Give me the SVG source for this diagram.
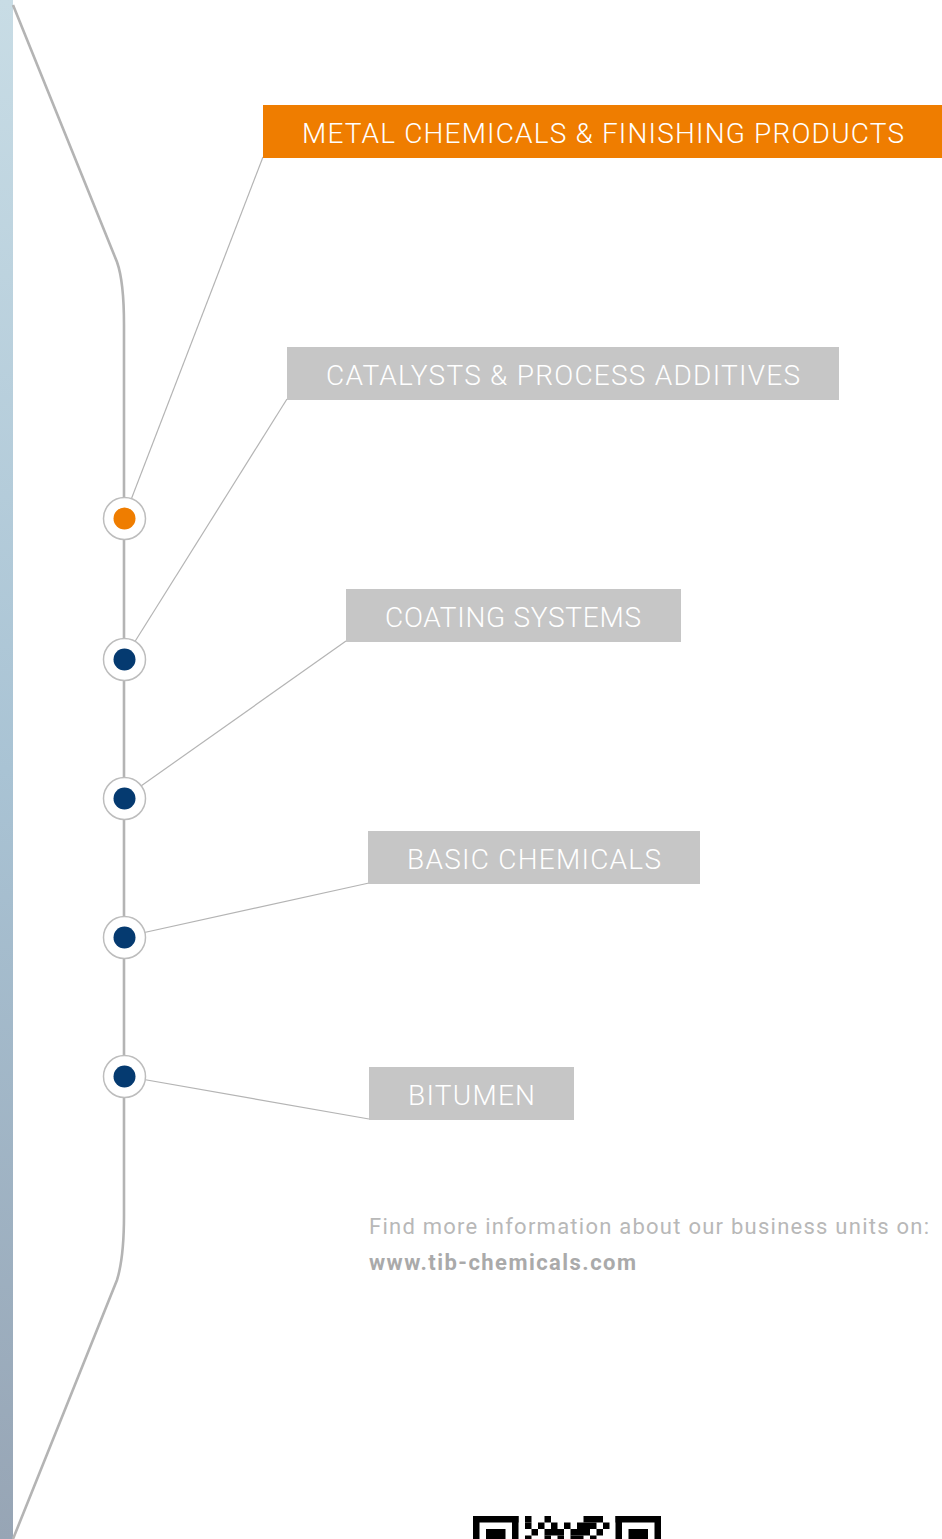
<svg xmlns="http://www.w3.org/2000/svg" width="942" height="1539" viewBox="0 0 942 1539">
  <style>
    .lbl { font-family: Roboto, "Liberation Sans", sans-serif; font-size: 28px; font-weight: 300; fill: #ffffff; }
    .box { fill: #c6c6c6; }
    .conn { fill: none; stroke: #b4b4b4; stroke-width: 1.2; }
    .main { fill: none; stroke: #b4b4b4; stroke-width: 2.6; }
    .ring { fill: #ffffff; stroke: #bdbdbd; stroke-width: 1.5; }
    .dot { fill: #053a70; }
    .foot { font-family: Roboto, "Liberation Sans", sans-serif; font-size: 22px; font-weight: 400; fill: #b8b8b8; }
    .url { font-family: Roboto, "Liberation Sans", sans-serif; font-size: 22px; font-weight: 700; fill: #aaaaaa; }
    .qr { fill: #000000; }
  </style>
  <defs>
    <linearGradient id="bar" x1="0" y1="0" x2="0" y2="1">
      <stop offset="0" stop-color="#c8dce5"/>
      <stop offset="0.5" stop-color="#a9c3d4"/>
      <stop offset="1" stop-color="#97a5b5"/>
    </linearGradient>
  </defs>
  <rect x="0" y="0" width="942" height="1539" fill="#ffffff"/>
  <rect x="0" y="0" width="13" height="1539" fill="url(#bar)"/>

  <g id="connectors">
    <path class="main" d="M13,5 L117,262 C122,276 124,300 124,325 L124,1215 C124,1240 122,1264 117,1280 L13,1539"/>
    <line class="conn" x1="124" y1="518" x2="263" y2="157"/>
    <line class="conn" x1="124" y1="659" x2="287" y2="399"/>
    <line class="conn" x1="124" y1="798" x2="346" y2="641"/>
    <line class="conn" x1="124" y1="937" x2="369" y2="883"/>
    <line class="conn" x1="124" y1="1076" x2="369" y2="1119"/>
  </g>

  <g id="node-metal">
    <rect x="263" y="105" width="679" height="53" fill="#ef7d00"/>
    <text class="lbl" x="302" y="143" textLength="602" lengthAdjust="spacing">METAL CHEMICALS &amp; FINISHING PRODUCTS</text>
  </g>
  <g id="node-catalysts">
    <rect class="box" x="287" y="347" width="552" height="53"/>
    <text class="lbl" x="326" y="385" textLength="474" lengthAdjust="spacing">CATALYSTS &amp; PROCESS ADDITIVES</text>
  </g>
  <g id="node-coating">
    <rect class="box" x="346" y="589" width="335" height="53"/>
    <text class="lbl" x="385" y="627" textLength="256" lengthAdjust="spacing">COATING SYSTEMS</text>
  </g>
  <g id="node-basic">
    <rect class="box" x="368" y="831" width="332" height="53"/>
    <text class="lbl" x="407" y="869" textLength="254" lengthAdjust="spacing">BASIC CHEMICALS</text>
  </g>
  <g id="node-bitumen">
    <rect class="box" x="369" y="1067" width="205" height="53"/>
    <text class="lbl" x="408" y="1105" textLength="127" lengthAdjust="spacing">BITUMEN</text>
  </g>

  <g id="dot-1"><circle class="ring" cx="124.5" cy="518.5" r="21"/><circle cx="124.5" cy="518.5" r="11" fill="#ef7d00"/></g>
  <g id="dot-2"><circle class="ring" cx="124.5" cy="659.5" r="21"/><circle class="dot" cx="124.5" cy="659.5" r="11"/></g>
  <g id="dot-3"><circle class="ring" cx="124.5" cy="798.5" r="21"/><circle class="dot" cx="124.5" cy="798.5" r="11"/></g>
  <g id="dot-4"><circle class="ring" cx="124.5" cy="937.5" r="21"/><circle class="dot" cx="124.5" cy="937.5" r="11"/></g>
  <g id="dot-5"><circle class="ring" cx="124.5" cy="1076.5" r="21"/><circle class="dot" cx="124.5" cy="1076.5" r="11"/></g>

  <g id="footer">
    <text class="foot" x="369" y="1234" textLength="560" lengthAdjust="spacing">Find more information about our business units on:</text>
    <text class="url" x="369" y="1270" textLength="267" lengthAdjust="spacing">www.tib-chemicals.com</text>
  </g>

  <g id="qr" class="qr">
    <rect x="473" y="1516" width="45.5" height="6.5"/>
    <rect x="473" y="1516" width="6.5" height="23"/>
    <rect x="512" y="1516" width="6.5" height="23"/>
    <rect x="486" y="1529" width="19.5" height="10"/>
    <rect x="615.5" y="1516" width="45.5" height="6.5"/>
    <rect x="615.5" y="1516" width="6.5" height="23"/>
    <rect x="654.5" y="1516" width="6.5" height="23"/>
    <rect x="628.5" y="1529" width="19.5" height="10"/>
    <rect x="525" y="1516" width="6.5" height="6.5"/>
    <rect x="544.5" y="1516" width="6.5" height="6.5"/>
    <rect x="583.5" y="1516" width="19.5" height="6.5"/>
    <rect x="525" y="1522.5" width="6.5" height="6.5"/>
    <rect x="538" y="1522.5" width="6.5" height="6.5"/>
    <rect x="551" y="1522.5" width="6.5" height="6.5"/>
    <rect x="564" y="1522.5" width="6.5" height="6.5"/>
    <rect x="577" y="1522.5" width="19.5" height="6.5"/>
    <rect x="603" y="1522.5" width="6.5" height="6.5"/>
    <rect x="531.5" y="1529" width="6.5" height="6.5"/>
    <rect x="544.5" y="1529" width="19.5" height="6.5"/>
    <rect x="570.5" y="1529" width="19.5" height="6.5"/>
    <rect x="596.5" y="1529" width="6.5" height="6.5"/>
    <rect x="525" y="1535.5" width="6.5" height="3.5"/>
    <rect x="544.5" y="1535.5" width="6.5" height="3.5"/>
    <rect x="557.5" y="1535.5" width="6.5" height="3.5"/>
    <rect x="570.5" y="1535.5" width="13" height="3.5"/>
    <rect x="590" y="1535.5" width="6.5" height="3.5"/>
  </g>
</svg>
